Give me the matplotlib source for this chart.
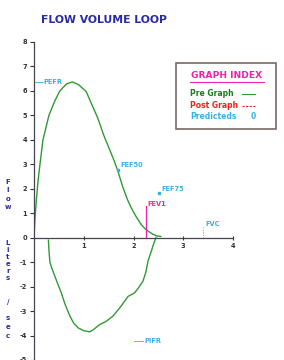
import matplotlib
matplotlib.use("Agg")
import matplotlib.pyplot as plt

# expiratory limb (volume L, flow L/s)
exp_vol = [0.0, 0.02, 0.05, 0.08, 0.12, 0.18, 0.30, 0.42, 0.52, 0.65, 0.77, 0.90, 1.05, 1.15,
           1.28, 1.40, 1.52, 1.62, 1.69, 1.78, 1.88, 1.96, 2.05, 2.15, 2.25, 2.38, 2.47, 2.55]
exp_flow = [0.0, 0.8, 1.6, 2.3, 3.0, 4.0, 5.0, 5.6, 6.0, 6.28, 6.37, 6.25, 5.97, 5.5,
            4.9, 4.2, 3.6, 3.1, 2.7, 2.1, 1.55, 1.2, 0.87, 0.55, 0.33, 0.15, 0.07, 0.05]

# inspiratory limb
insp_vol = [2.45, 2.41, 2.35, 2.29, 2.25, 2.19, 2.10, 2.02, 1.89, 1.75, 1.59, 1.45, 1.32, 1.20,
            1.12, 1.00, 0.89, 0.80, 0.72, 0.62, 0.55, 0.48, 0.42, 0.35, 0.32, 0.30, 0.29]
insp_flow = [0.0, -0.22, -0.6, -0.97, -1.4, -1.78, -2.05, -2.26, -2.4, -2.8, -3.2, -3.42, -3.55, -3.75,
             -3.85, -3.8, -3.69, -3.5, -3.2, -2.7, -2.26, -1.9, -1.58, -1.2, -1.0, -0.5, -0.1]

pefr = 6.35
pifr = -4.23
fef50 = (1.69, 2.75)
fef75 = (2.52, 1.82)
fev1 = (2.26, 1.3)
fvc = (3.4, 0.45)

y_ticks = list(range(-5, 9))
x_ticks = [1, 2, 3, 4]

green = "#2f9a35"
cyan = "#3ab0e0"
magenta = "#ee22aa"
navy = "#2a2aa8"
W, H = 284, 360


def fx(px):
    return px / W


def fy(py):
    return 1 - py / H


fig = plt.figure(figsize=(2.84, 3.6), dpi=100)
ax = fig.add_axes([fx(34), 0.0, fx(233) - fx(34), fy(42)])
ax.set_xlim(0, 4)
ax.set_ylim(-5, 8)

ax.plot(exp_vol, exp_flow, color=green, lw=1.0)
ax.plot(insp_vol, insp_flow, color=green, lw=1.0)

font = dict(family="DejaVu Sans", weight="bold", fontsize=4.8)
lfont = dict(family="DejaVu Sans", weight="bold", fontsize=5.5)

# markers
ax.plot([0, 0.18], [pefr, pefr], color=cyan, lw=0.6)
ax.text(0.19, pefr, "PEFR", color=cyan, va="center", ha="left", **font)
ax.plot([2.0, 2.2], [pifr, pifr], color=cyan, lw=0.6)
ax.text(2.21, pifr, "PIFR", color=cyan, va="center", ha="left", **font)
ax.plot(*fef50, marker="s", ms=2, color=cyan)
ax.text(fef50[0] + 0.05, fef50[1] + 0.1, "FEF50", color=cyan, va="bottom", ha="left", **font)
ax.plot(*fef75, marker="s", ms=2, color=cyan)
ax.text(fef75[0] + 0.05, fef75[1] + 0.05, "FEF75", color=cyan, va="bottom", ha="left", **font)
ax.plot([fev1[0], fev1[0]], [0, fev1[1]], color=magenta, lw=0.9)
ax.text(fev1[0] + 0.02, fev1[1] - 0.05, "FEV1", color=magenta, va="bottom", ha="left", **font)
ax.plot([fvc[0], fvc[0]], [0, fvc[1]], color=cyan, lw=0.7, ls=":")
ax.text(fvc[0] + 0.04, fvc[1], "FVC", color=cyan, va="bottom", ha="left", **font)

# axes styling
for s in ["top", "right"]:
    ax.spines[s].set_visible(False)
ax.spines["bottom"].set_position(("data", 0))
ax.spines["left"].set_color("#444455")
ax.spines["bottom"].set_color("#444455")
ax.spines["left"].set_linewidth(0.9)
ax.spines["bottom"].set_linewidth(0.9)
ax.set_yticks(y_ticks)
ax.set_yticklabels([str(v) for v in y_ticks])
ax.set_xticks(x_ticks)
ax.set_xticklabels([str(v) for v in x_ticks])
ax.tick_params(axis="y", direction="out", length=3, width=0.8, pad=2, labelsize=4.8, colors="#333333")
ax.tick_params(axis="x", direction="inout", length=3, width=0.8, pad=2, labelsize=4.8, colors="#333333")
for lab in ax.get_xticklabels() + ax.get_yticklabels():
    lab.set_fontweight("bold")

# title
fig.text(fx(104), fy(20), "FLOW VOLUME LOOP", color=navy, ha="center", va="center",
         family="DejaVu Sans", weight="bold", fontsize=7.8)

# stacked y label
ylabel_chars = [("F", 182), ("l", 190), ("o", 199), ("w", 207),
                ("L", 243), ("i", 250), ("t", 257), ("e", 264), ("r", 271), ("s", 278),
                ("/", 302), ("s", 318), ("e", 327), ("c", 336)]
for ch, py in ylabel_chars:
    fig.text(fx(8), fy(py), ch, color=navy, ha="center", va="center",
             family="DejaVu Sans", weight="bold", fontsize=5)

# graph index box
box = plt.Rectangle((fx(176), fy(129)), fx(276) - fx(176), fy(63) - fy(129),
                    transform=fig.transFigure, fill=False, ec="#7a6868", lw=1.2)
fig.add_artist(box)
fig.text(fx(227), fy(76), "GRAPH INDEX", color=magenta, ha="center", va="center",
         family="DejaVu Sans", weight="bold", fontsize=6.6)
fig.add_artist(plt.Line2D([fx(190), fx(264)], [fy(81.5), fy(81.5)], transform=fig.transFigure,
                          color=magenta, lw=0.8))
fig.text(fx(190), fy(93.5), "Pre Graph", color="#1e7a1e", ha="left", va="center", **lfont)
fig.add_artist(plt.Line2D([fx(242), fx(255)], [fy(93.5), fy(93.5)], transform=fig.transFigure,
                          color=green, lw=0.8))
fig.text(fx(190), fy(105.5), "Post Graph", color="#ee2020", ha="left", va="center", **lfont)
fig.add_artist(plt.Line2D([fx(242), fx(255)], [fy(105.5), fy(105.5)], transform=fig.transFigure,
                          color="#ee2020", lw=0.8, ls=(0, (2, 1.2))))
fig.text(fx(190), fy(117), "Predicteds", color=cyan, ha="left", va="center", **lfont)
fig.text(fx(253), fy(117), "0", color=cyan, ha="center", va="center", **lfont)

fig.savefig("out.png", dpi=100, facecolor="white")
